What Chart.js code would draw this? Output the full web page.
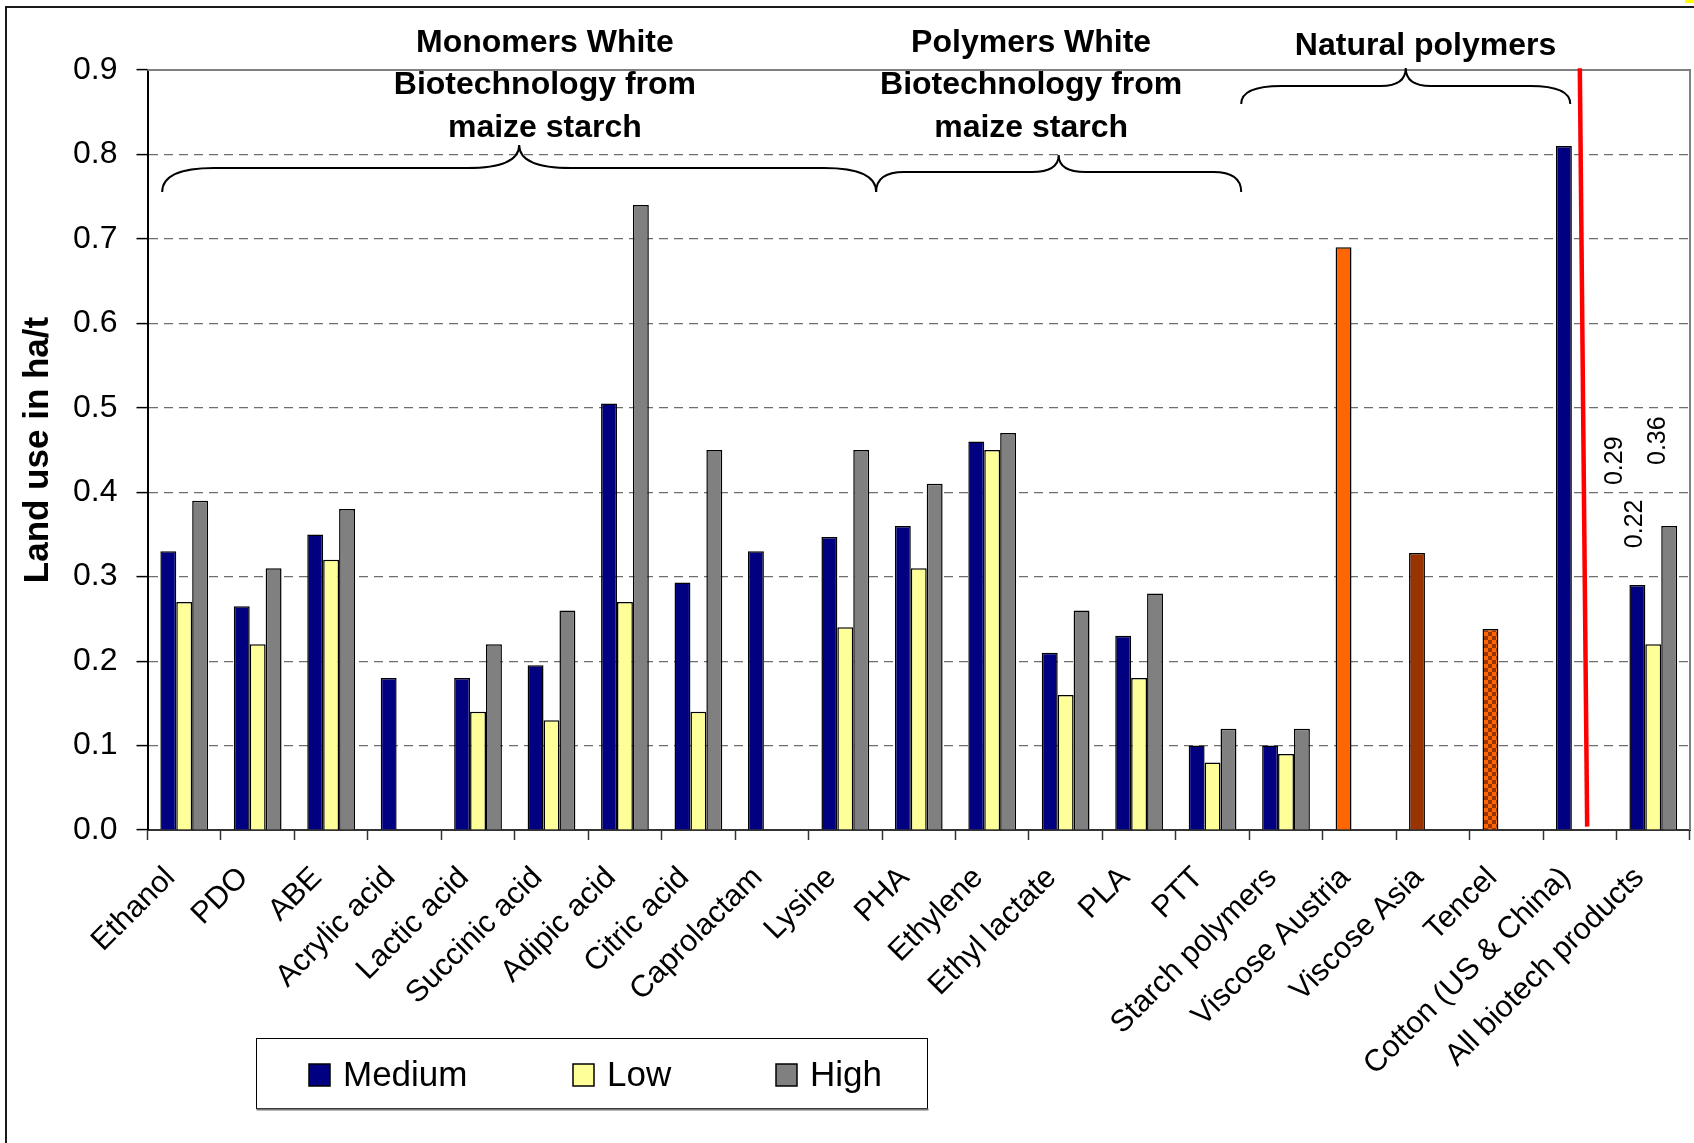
<!DOCTYPE html>
<html>
<head>
<meta charset="utf-8">
<script src="https://cdn.jsdelivr.net/npm/chart.js@4.4.1/dist/chart.umd.min.js"></script>
<style>
  html, body { margin: 0; padding: 0; background: #ffffff; }
  #wrap { width: 1694px; height: 1143px; position: relative; }
</style>
</head>
<body>
<div id="wrap"><canvas id="landUse" width="1694" height="1143"></canvas></div>
<script>
// Product categories along the x axis
const categories = [
  'Ethanol', 'PDO', 'ABE', 'Acrylic acid', 'Lactic acid', 'Succinic acid',
  'Adipic acid', 'Citric acid', 'Caprolactam', 'Lysine', 'PHA', 'Ethylene',
  'Ethyl lactate', 'PLA', 'PTT', 'Starch polymers', 'Viscose Austria',
  'Viscose Asia', 'Tencel', 'Cotton (US & China)', 'All biotech products'
];

// Land use in ha/t, three scenarios
const medium = [0.33, 0.265, 0.35, 0.18, 0.18, 0.195, 0.505, 0.293, 0.33, 0.347,
                0.36, 0.46, 0.21, 0.23, 0.10, 0.10, 0.69, 0.328, 0.238, 0.81, 0.29];
const low    = [0.27, 0.22, 0.32, null, 0.14, 0.13, 0.27, 0.14, null, 0.24,
                0.31, 0.45, 0.16, 0.18, 0.08, 0.09, null, null, null, null, 0.22];
const high   = [0.39, 0.31, 0.38, null, 0.22, 0.26, 0.74, 0.45, null, 0.45,
                0.41, 0.47, 0.26, 0.28, 0.12, 0.12, null, null, null, null, 0.36];

const seriesNames = ['Medium', 'Low', 'High'];
const yTickValues = [0.0, 0.1, 0.2, 0.3, 0.4, 0.5, 0.6, 0.7, 0.8, 0.9];

// Group headings above the bars
const groupTitles = [
  ['Monomers White', 'Biotechnology from', 'maize starch'],
  ['Polymers White', 'Biotechnology from', 'maize starch'],
  ['Natural polymers']
];

// Values printed next to the "All biotech products" bars
const labelledCategory = 'All biotech products';

// ---- styling ----
const FONT = '"Liberation Sans", Arial, Helvetica, sans-serif';
const NAVY = '#000080', PALE = '#FFFF99', GREY = '#808080';
const ORANGE = '#FF6600', BROWN = '#993300';

function checkerPattern(a, b, cell) {
  const c = document.createElement('canvas');
  c.width = cell * 2; c.height = cell * 2;
  const g = c.getContext('2d');
  g.fillStyle = a; g.fillRect(0, 0, c.width, c.height);
  g.fillStyle = b;
  g.fillRect(0, 0, cell, cell);
  g.fillRect(cell, cell, cell, cell);
  return g.createPattern(c, 'repeat');
}

const specialFill = {
  'Viscose Austria': ORANGE,
  'Viscose Asia': BROWN,
  'Tencel': checkerPattern(ORANGE, BROWN, 4)
};
const mediumFill = categories.map(c => specialFill[c] || NAVY);
const seriesFill = [NAVY, PALE, GREY];

// Annotation layer: frame, braces, headings, red divider, value labels, legend
const decor = {
  id: 'decor',
  beforeDraw(chart) {
    const { ctx, width, height } = chart;
    ctx.save();
    ctx.fillStyle = '#ffffff';
    ctx.fillRect(0, 0, width, height);
    ctx.restore();
  },
  beforeDatasetsDraw(chart) {
    const { ctx, chartArea: a } = chart;
    ctx.save();
    ctx.strokeStyle = '#808080';
    ctx.lineWidth = 2;
    ctx.beginPath();
    ctx.moveTo(a.left, a.top);
    ctx.lineTo(a.right, a.top);
    ctx.lineTo(a.right, a.bottom);
    ctx.stroke();
    ctx.restore();
  },
  afterDraw(chart) {
    const { ctx } = chart;
    const xs = chart.scales.x, ys = chart.scales.y;
    const px = v => xs.getPixelForValue(0) + v * (xs.getPixelForValue(1) - xs.getPixelForValue(0));

    // outer border of the figure
    ctx.save();
    ctx.strokeStyle = '#1a1a1a';
    ctx.lineWidth = 2;
    ctx.beginPath();
    ctx.moveTo(6, chart.height);
    ctx.lineTo(6, 7);
    ctx.lineTo(chart.width, 7);
    ctx.stroke();
    ctx.fillStyle = '#FFFF00';
    ctx.fillRect(chart.width - 9, 0, 9, 3);
    ctx.restore();

    // curly braces
    const braces = [
      { from: -0.30, to: 9.42,  yb: 192, yh: 168, yp: 145, rEnd: 52, rPeak: 52 },
      { from: 9.42,  to: 14.39, yb: 192, yh: 172, yp: 155, rEnd: 28, rPeak: 27 },
      { from: 14.39, to: 18.87, yb: 104, yh: 86,  yp: 68,  rEnd: 40, rPeak: 25 }
    ];
    ctx.save();
    ctx.strokeStyle = '#000';
    ctx.lineWidth = 2;
    braces.forEach(b => {
      const x0 = px(b.from), x1 = px(b.to), xm = (x0 + x1) / 2;
      ctx.beginPath();
      ctx.moveTo(x0, b.yb);
      ctx.quadraticCurveTo(x0, b.yh, x0 + b.rEnd, b.yh);
      ctx.lineTo(xm - b.rPeak, b.yh);
      ctx.quadraticCurveTo(xm, b.yh, xm, b.yp);
      ctx.quadraticCurveTo(xm, b.yh, xm + b.rPeak, b.yh);
      ctx.lineTo(x1 - b.rEnd, b.yh);
      ctx.quadraticCurveTo(x1, b.yh, x1, b.yb);
      ctx.stroke();
    });
    ctx.restore();

    // group headings
    const headingX = [4.91, 11.53, 16.9];
    const baselines = [52, 94, 136.5];
    ctx.save();
    ctx.fillStyle = '#000';
    ctx.font = 'bold 32px ' + FONT;
    ctx.textAlign = 'center';
    ctx.textBaseline = 'alphabetic';
    groupTitles.forEach((lines, i) => {
      lines.forEach((t, j) => ctx.fillText(t, px(headingX[i]), baselines[j] + (lines.length === 1 ? 3 : 0)));
    });
    ctx.restore();

    // red divider before the aggregate
    ctx.save();
    ctx.strokeStyle = '#FF0000';
    ctx.lineWidth = 4.5;
    ctx.beginPath();
    ctx.moveTo(px(19.0), ys.getPixelForValue(0.902));
    ctx.lineTo(px(19.1), ys.getPixelForValue(0.004));
    ctx.stroke();
    ctx.restore();

    // rotated value labels for the aggregate bars
    const idx = categories.indexOf(labelledCategory);
    const shift = [[-22, 100], [-18, 96], [-11, 61]];
    ctx.save();
    ctx.fillStyle = '#000';
    ctx.font = '25px ' + FONT;
    ctx.textAlign = 'left';
    ctx.textBaseline = 'middle';
    chart.data.datasets.forEach((ds, d) => {
      const bar = chart.getDatasetMeta(d).data[idx];
      const v = ds.data[idx];
      if (!bar || v == null) return;
      ctx.save();
      ctx.translate(bar.x + shift[d][0], ys.getPixelForValue(v) - shift[d][1]);
      ctx.rotate(-Math.PI / 2);
      ctx.fillText(v.toFixed(2), 0, 0);
      ctx.restore();
    });
    ctx.restore();

    // legend box
    ctx.save();
    const box = { x: 256.5, y: 1038.5, w: 671, h: 70 };
    ctx.fillStyle = '#fff';
    ctx.fillRect(box.x, box.y, box.w, box.h);
    ctx.strokeStyle = '#000';
    ctx.lineWidth = 1;
    ctx.strokeRect(box.x, box.y, box.w, box.h);
    ctx.strokeStyle = '#777';
    ctx.lineWidth = 2;
    ctx.beginPath();
    ctx.moveTo(box.x, box.y + box.h + 1);
    ctx.lineTo(box.x + box.w + 1, box.y + box.h + 1);
    ctx.stroke();
    const itemX = [309, 573, 776];
    ctx.font = '35px ' + FONT;
    ctx.textBaseline = 'middle';
    ctx.textAlign = 'left';
    chart.data.datasets.forEach((ds, d) => {
      const sx = itemX[d], sy = 1064;
      ctx.fillStyle = seriesFill[d];
      ctx.fillRect(sx, sy, 21, 22);
      ctx.strokeStyle = '#000';
      ctx.lineWidth = 1.5;
      ctx.strokeRect(sx, sy, 21, 22);
      ctx.fillStyle = '#000';
      ctx.fillText(ds.label, sx + 34, sy + 12);
    });
    ctx.restore();
  }
};

Chart.defaults.font.family = FONT;
Chart.defaults.color = '#000';

new Chart(document.getElementById('landUse'), {
  type: 'bar',
  data: {
    labels: categories,
    datasets: [
      { label: seriesNames[0], data: medium, backgroundColor: mediumFill },
      { label: seriesNames[1], data: low, backgroundColor: PALE },
      { label: seriesNames[2], data: high, backgroundColor: GREY }
    ]
  },
  options: {
    responsive: false,
    animation: false,
    devicePixelRatio: 1,
    layout: { padding: { left: 0, right: 4, top: 70, bottom: 0 } },
    datasets: {
      bar: {
        categoryPercentage: 0.65,
        barPercentage: 1.0,
        borderColor: '#000',
        borderWidth: 1.5,
        borderSkipped: 'start'
      }
    },
    plugins: {
      legend: { display: false },
      tooltip: { enabled: false },
      title: { display: false }
    },
    scales: {
      x: {
        offset: true,
        grid: {
          offset: true,
          drawOnChartArea: false,
          drawTicks: true,
          tickLength: 10,
          tickColor: '#333',
          tickWidth: 1.5
        },
        border: { display: true, color: '#333', width: 2 },
        ticks: {
          autoSkip: false,
          maxRotation: 45,
          minRotation: 45,
          padding: 20,
          labelOffset: -14,
          font: { size: 30.5 },
          color: '#000'
        },
        afterFit(scale) {
          scale.height = 313;
          scale.paddingLeft = 0;
          scale.paddingRight = 0;
        }
      },
      y: {
        min: 0,
        max: 0.9,
        afterBuildTicks(scale) { scale.ticks = yTickValues.map(v => ({ value: v })); },
        ticks: {
          font: { size: 32 },
          color: '#000',
          padding: 19,
          callback: v => Number(v).toFixed(1)
        },
        grid: {
          color: c => (c.tick && (c.tick.value <= 0.0001 || c.tick.value >= 0.8999)) ? 'rgba(0,0,0,0)' : '#6e6e6e',
          lineWidth: 1.2,
          drawTicks: true,
          tickLength: 11,
          tickColor: '#000',
          tickWidth: 1.5,
          tickBorderDash: []
        },
        border: { display: true, color: '#000', width: 2, dash: [9, 6] },
        title: {
          display: true,
          text: 'Land use in ha/t',
          font: { size: 35, weight: 'bold', lineHeight: 1.2 },
          color: '#000',
          padding: { top: 17, bottom: 0 }
        },
        afterFit(scale) { scale.width = 147.5; }
      }
    }
  },
  plugins: [decor]
});
</script>
</body>
</html>
